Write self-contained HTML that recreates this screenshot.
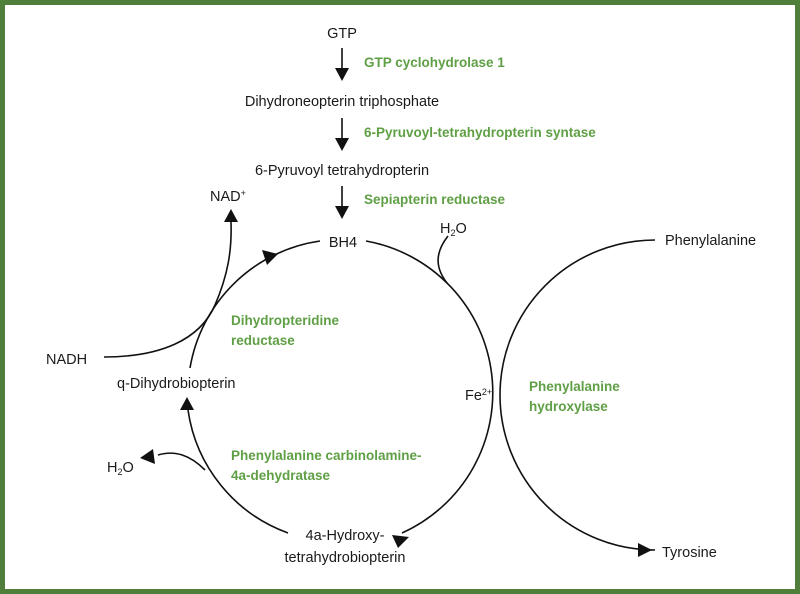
<!DOCTYPE html>
<html><head><meta charset="utf-8"><style>
html,body{margin:0;padding:0;background:#fff}
svg{display:block}
text{font-family:"Liberation Sans",sans-serif;font-size:14.5px;fill:#1a1a1a}
.g{fill:#5f9f45;font-weight:bold;font-size:13.5px}
</style></head><body>
<svg width="800" height="594" viewBox="0 0 800 594" xmlns="http://www.w3.org/2000/svg">
<rect x="2.5" y="2.5" width="795" height="589" fill="#fff" stroke="#4f7f3b" stroke-width="5"/>
<g stroke="#111" stroke-width="1.6" fill="none">
<line x1="342" y1="48" x2="342" y2="70"/>
<line x1="342" y1="118" x2="342" y2="140"/>
<line x1="342" y1="186" x2="342" y2="208"/>
<path d="M190,368 A154,154 0 0 1 320,241"/>
<path d="M366,241 A154,154 0 0 1 402,533"/>
<path d="M288,533 A154,154 0 0 1 188,410"/>
<path d="M655,240 A155,155 0 0 0 655,550 L640,550"/>
<path d="M104,357 C160,357 200,340 215,305 C228,275 232,250 231,222"/>
<path d="M205,470 C190,455 175,450 158,455"/>
<path d="M447,283 C437,270 433,255 448,236"/>
</g>
<g fill="#111">
<polygon points="335,68 349,68 342,81"/>
<polygon points="335,138 349,138 342,151"/>
<polygon points="335,206 349,206 342,219"/>
<polygon points="262,250 278,254 267,265"/>
<polygon points="180,410 194,410 187,397"/>
<polygon points="392,535 409,537 398,548"/>
<polygon points="224,222 238,222 231,209"/>
<polygon points="153,449 155,464 140,458"/>
<polygon points="638,543 638,557 652,550"/>
</g>
<text x="342" y="38" text-anchor="middle">GTP</text>
<text class="g" x="364" y="67">GTP cyclohydrolase 1</text>
<text x="342" y="106" text-anchor="middle">Dihydroneopterin triphosphate</text>
<text class="g" x="364" y="137">6-Pyruvoyl-tetrahydropterin syntase</text>
<text x="342" y="175" text-anchor="middle">6-Pyruvoyl tetrahydropterin</text>
<text class="g" x="364" y="204">Sepiapterin reductase</text>
<text x="343" y="247" text-anchor="middle">BH4</text>
<text x="210" y="201">NAD<tspan font-size="9" dy="-5">+</tspan></text>
<text x="440" y="233">H<tspan font-size="9" dy="3">2</tspan><tspan dy="-3">O</tspan></text>
<text x="665" y="245">Phenylalanine</text>
<text class="g" x="231" y="325">Dihydropteridine</text>
<text class="g" x="231" y="345">reductase</text>
<text x="46" y="364">NADH</text>
<text x="117" y="388">q-Dihydrobiopterin</text>
<text x="465" y="400">Fe<tspan font-size="9" dy="-5">2+</tspan></text>
<text class="g" x="529" y="391">Phenylalanine</text>
<text class="g" x="529" y="411">hydroxylase</text>
<text x="107" y="472">H<tspan font-size="9" dy="3">2</tspan><tspan dy="-3">O</tspan></text>
<text class="g" x="231" y="460">Phenylalanine carbinolamine-</text>
<text class="g" x="231" y="480">4a-dehydratase</text>
<text x="345" y="540" text-anchor="middle">4a-Hydroxy-</text>
<text x="345" y="562" text-anchor="middle">tetrahydrobiopterin</text>
<text x="662" y="557">Tyrosine</text>
</svg>
</body></html>
